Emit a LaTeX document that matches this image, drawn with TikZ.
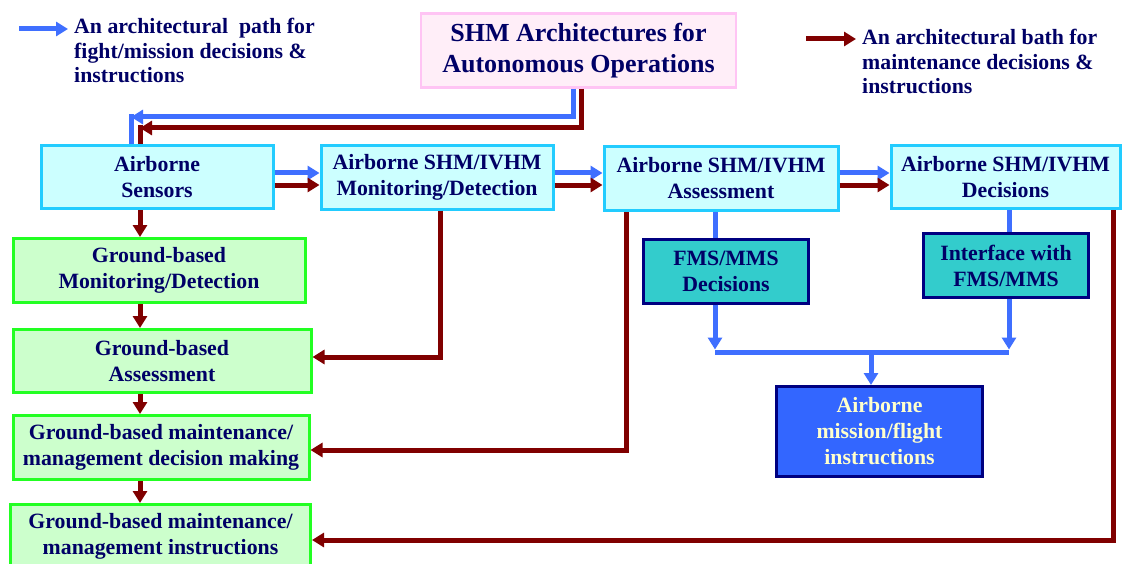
\documentclass[tikz,border=0pt]{standalone}
\usepackage{fontspec}
\setmainfont{Liberation Serif}
\usetikzlibrary{arrows.meta}
\definecolor{navy}{HTML}{000066}
\definecolor{cyf}{HTML}{CCFFFF}
\definecolor{cyb}{HTML}{22CCFF}
\definecolor{grf}{HTML}{CCFFCC}
\definecolor{grb}{HTML}{22FF22}
\definecolor{pkf}{HTML}{FFEEF8}
\definecolor{pkb}{HTML}{FFC4F4}
\definecolor{teal2}{HTML}{33CCCC}
\definecolor{bordnavy}{HTML}{000080}
\definecolor{bluebox}{HTML}{3366FF}
\definecolor{cream}{HTML}{FFFFCC}
\definecolor{bluel}{HTML}{3F6FFF}
\definecolor{redl}{HTML}{800000}
\tikzset{
  boxtext/.style={text=navy, align=center, inner sep=0pt, font=\fontsize{21.8}{26}\selectfont\bfseries},
  cybox/.style={boxtext, draw=cyb, fill=cyf, line width=3pt},
  grbox/.style={boxtext, draw=grb, fill=grf, line width=3pt},
  tlbox/.style={boxtext, draw=bordnavy, fill=teal2, line width=3pt},
  blbox/.style={boxtext, text=cream, draw=bordnavy, fill=bluebox, line width=3pt},
  pkbox/.style={text=navy, align=center, inner sep=0pt, draw=pkb, fill=pkf, line width=2.5pt, font=\fontsize{26}{31}\selectfont\bfseries},
  legtext/.style={text=navy, align=left, inner sep=0pt, font=\fontsize{21.8}{24.5}\selectfont\bfseries},
  bluearr/.style={draw=bluel, line width=5pt, -{Triangle[length=12pt,width=14pt]}},
  redarr/.style={draw=redl, line width=5pt, -{Triangle[length=12pt,width=14pt]}},
  blueln/.style={draw=bluel, line width=5pt},
  redln/.style={draw=redl, line width=5pt},
}
\begin{document}
\begin{tikzpicture}[x=1pt,y=-1pt]
\useasboundingbox (0,0) rectangle (1123,564);
\fill[white] (0,0) rectangle (1123,564);

% legend
\coordinate (lb1) at (19,29);
\coordinate (lb2) at (68,29);
\draw[bluearr] (lb1) -- (lb2);
\node[legtext, anchor=north west] (legb) at (74,18) {An architectural\ \ path for\\fight/mission decisions \&\\instructions};
\coordinate (lr1) at (806,39);
\coordinate (lr2) at (856,39);
\draw[redarr] (lr1) -- (lr2);
\node[legtext, anchor=north west] (legr) at (862,29) {An architectural bath for\\maintenance decisions \&\\instructions};

% title
\node[pkbox, minimum width=315pt, minimum height=74pt] (title) at (578.5,50.5) {SHM Architectures for\\Autonomous Operations};

% airborne boxes
\node[cybox, minimum width=232pt, minimum height=63pt] (sens) at (157,177) {Airborne\\Sensors};
\node[cybox, minimum width=232pt, minimum height=63pt] (mon) at (437,177.5) {Airborne SHM/IVHM\\Monitoring/Detection};
\node[cybox, minimum width=234pt, minimum height=64pt] (ass) at (721,178.5) {Airborne SHM/IVHM\\Assessment};
\node[cybox, minimum width=229pt, minimum height=63pt] (dec) at (1005.5,177) {Airborne SHM/IVHM\\Decisions};

% ground boxes
\node[grbox, minimum width=292pt, minimum height=64pt] (gmon) at (159,270.5) {Ground-based\\Monitoring/Detection};
\node[grbox, minimum width=298pt, minimum height=63pt] (gass) at (162,361) {Ground-based\\Assessment};
\node[grbox, minimum width=296pt, minimum height=64pt] (gdec) at (161,447.5) {Ground-based maintenance/\\management decision making};
\node[grbox, minimum width=300pt, minimum height=63pt] (gins) at (160.5,536) {Ground-based maintenance/\\management instructions};

% FMS boxes
\node[tlbox, minimum width=165pt, minimum height=64pt] (fms) at (726,271) {FMS/MMS\\Decisions};
\node[tlbox, minimum width=165pt, minimum height=64pt] (intf) at (1006,265.5) {Interface with\\FMS/MMS};
\node[blbox, minimum width=206pt, minimum height=90pt] (air) at (879.5,431.5) {Airborne\\mission/flight\\instructions};

% helper coordinates
\coordinate (xb) at (573,0);
\coordinate (xr) at (581,0);
\coordinate (cb) at (131,117);
\coordinate (cr) at (140,128);
\coordinate (yb) at (0,173);
\coordinate (yr) at (0,185);
\coordinate (xg) at (140,0);
\coordinate (m1) at (440,357);
\coordinate (a1) at (626,450);
\coordinate (d1) at (1113,540);
\coordinate (xf) at (715,0);
\coordinate (xi) at (1009,0);
\coordinate (jl) at (715,352);
\coordinate (jr) at (1009,352);
\coordinate (jm) at (871,352);

% top feedback paths
\draw[bluearr] (title.south -| xb) |- (cb);
\draw[blueln] ([yshift=2.5pt]cb) -- (sens.north -| cb);
\draw[redarr] (title.south -| xr) |- (cr);
\draw[redln] ([yshift=2.5pt]cr) -- (sens.north -| cr);

% horizontal airborne chain
\draw[bluearr] (sens.east |- yb) -- (mon.west |- yb);
\draw[redarr] (sens.east |- yr) -- (mon.west |- yr);
\draw[bluearr] (mon.east |- yb) -- (ass.west |- yb);
\draw[redarr] (mon.east |- yr) -- (ass.west |- yr);
\draw[bluearr] (ass.east |- yb) -- (dec.west |- yb);
\draw[redarr] (ass.east |- yr) -- (dec.west |- yr);

% ground chain
\draw[redarr] (sens.south -| xg) -- (gmon.north -| xg);
\draw[redarr] (gmon.south -| xg) -- (gass.north -| xg);
\draw[redarr] (gass.south -| xg) -- (gdec.north -| xg);
\draw[redarr] (gdec.south -| xg) -- (gins.north -| xg);

% airborne to ground
\draw[redarr] (mon.south -| m1) |- (gass.east |- m1);
\draw[redarr] (ass.south -| a1) |- (gdec.east |- a1);
\draw[redarr] (dec.south -| d1) |- (gins.east |- d1);

% FMS paths
\draw[blueln] (ass.south -| xf) -- (fms.north -| xf);
\draw[blueln] (dec.south -| xi) -- (intf.north -| xi);
\draw[bluearr] (fms.south -| xf) -- ([yshift=2.5pt]jl);
\draw[bluearr] (intf.south -| xi) -- ([yshift=2.5pt]jr);
\draw[blueln] (jl) -- (jr);
\draw[bluearr] (jm) -- (air.north -| jm);
\end{tikzpicture}
\end{document}
